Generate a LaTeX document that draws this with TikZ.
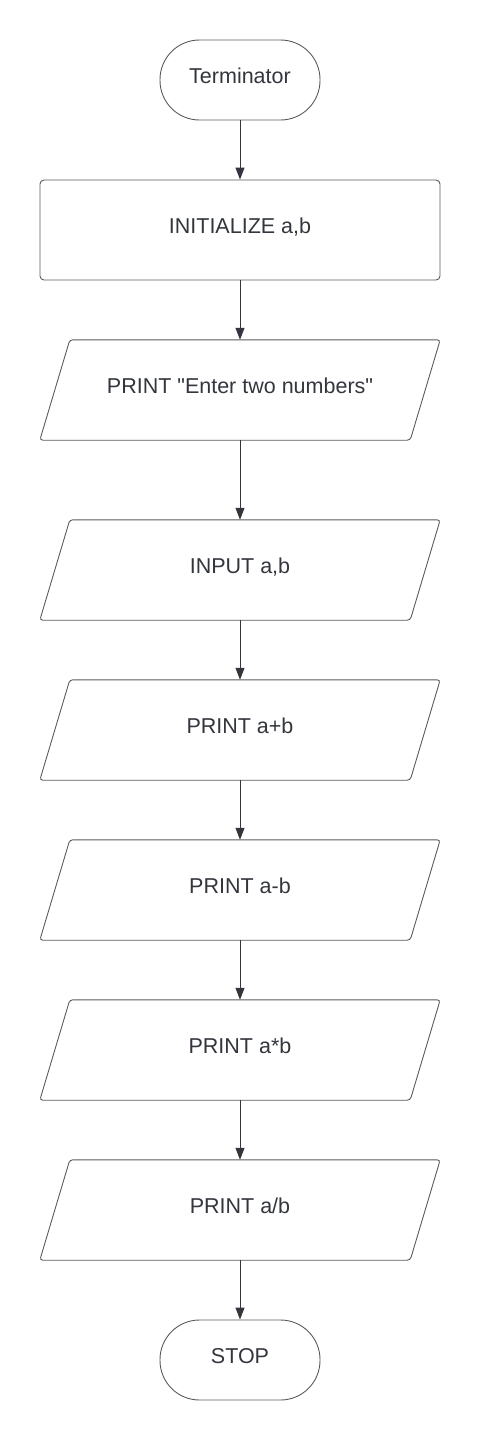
\documentclass[tikz,border=0pt]{standalone}
\usepackage{fontspec}
\setmainfont{Liberation Sans}[Ligatures=TeXOff]
\usetikzlibrary{arrows.meta}
\definecolor{txt}{HTML}{33373D}
\definecolor{edge}{HTML}{5C5C5C}
\newcommand\drawpara[1]{\draw[para] ([xshift=30pt]#1.north west) -- (#1.north east) -- ([xshift=-30pt]#1.south east) -- (#1.south west) -- cycle;}
\begin{document}
\begin{tikzpicture}[x=1pt,y=-1pt,
  lbl/.style={text=txt, font=\fontsize{21.5}{24}\selectfont, inner sep=0pt, text height=6.8pt, text depth=0pt},
  box/.style={lbl, draw=edge, line width=0.9pt, rounded corners=4pt, minimum width=400pt, minimum height=100pt},
  term/.style={lbl, draw=edge, line width=0.9pt, rounded corners=39.5pt, minimum width=160pt, minimum height=80pt},
  io/.style={lbl, minimum width=400pt, minimum height=100pt},
  para/.style={draw=edge, line width=0.9pt, rounded corners=3pt},
  arr/.style={draw=txt, line width=1pt, -{Triangle[length=12pt,width=9pt]}}]
\useasboundingbox[fill=white] (0,0) rectangle (480,1446);
\node[term] (t) at (240,80) {Terminator};
\node[box] (init) at (240,230) {INITIALIZE a,b};
\node[io] (p1) at (240,390) {PRINT "Enter two numbers"};
\node[io] (in) at (240,570) {INPUT a,b};
\node[io] (p2) at (240,730) {PRINT a+b};
\node[io] (p3) at (240,890) {PRINT a-b};
\node[io] (p4) at (240,1050) {PRINT a*b};
\node[io] (p5) at (240,1210) {PRINT a/b};
\node[term] (stop) at (240,1360) {STOP};
\drawpara{p1}
\drawpara{in}
\drawpara{p2}
\drawpara{p3}
\drawpara{p4}
\drawpara{p5}
\draw[arr] (t) -- (init);
\draw[arr] (init) -- (p1);
\draw[arr] (p1) -- (in);
\draw[arr] (in) -- (p2);
\draw[arr] (p2) -- (p3);
\draw[arr] (p3) -- (p4);
\draw[arr] (p4) -- (p5);
\draw[arr] (p5) -- (stop);
\end{tikzpicture}
\end{document}
